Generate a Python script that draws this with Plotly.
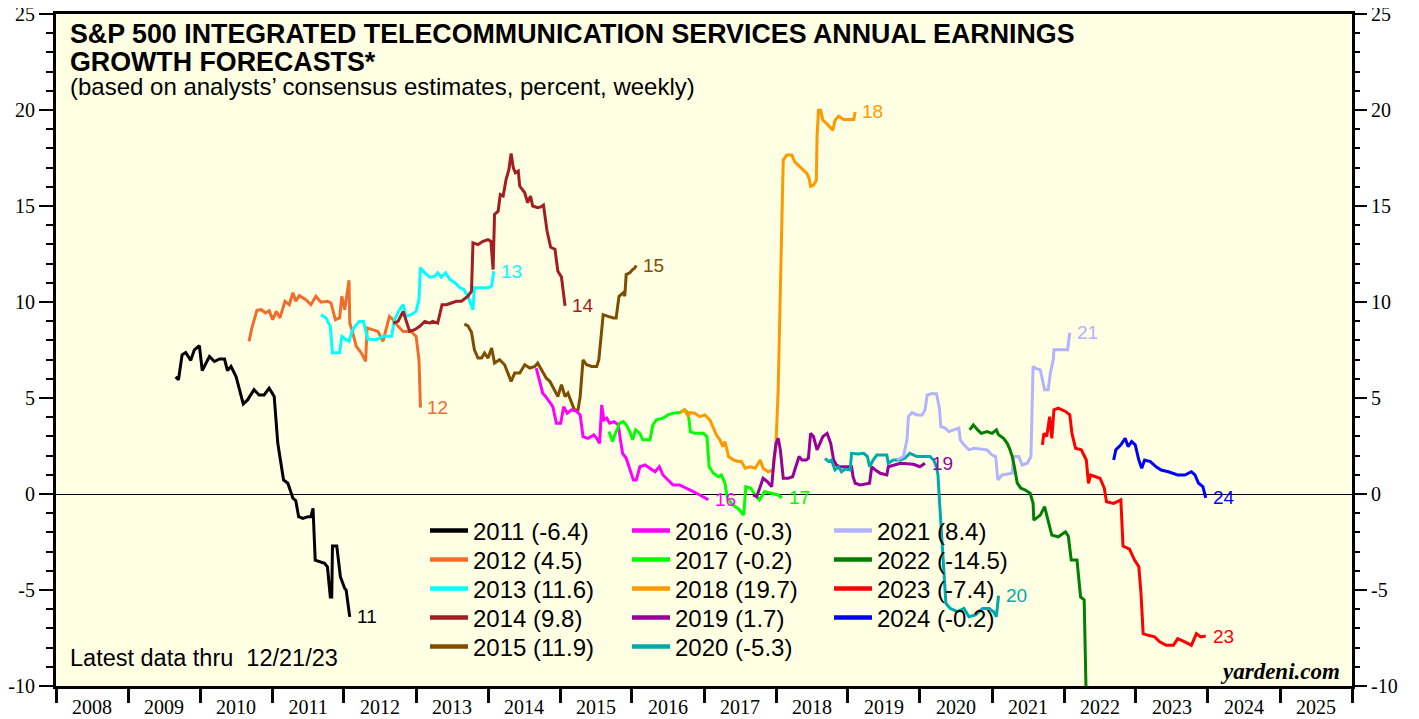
import plotly.graph_objects as go
import pandas as pd

# ---------------- data (decimal year, percent) ----------------
t2011 = [2009.66,2009.70,2009.75,2009.80,2009.87,2009.92,2009.99,2010.03,2010.13,2010.20,2010.27,2010.34,2010.38,2010.43,2010.50,2010.55,2010.60,2010.66,2010.75,2010.82,2010.89,2010.96,2011.03,2011.08,2011.11,2011.16,2011.22,2011.29,2011.33,2011.37,2011.43,2011.50,2011.54,2011.57,2011.60,2011.66,2011.73,2011.77,2011.81,2011.83,2011.84,2011.90,2011.95,2012.01,2012.03,2012.08]
v2011 = [6.1,5.95,7.25,7.37,6.96,7.51,7.72,6.43,7.16,6.90,7.03,7.03,6.43,6.64,6.12,5.43,4.69,4.90,5.43,5.16,5.16,5.51,5.08,2.64,1.95,0.73,0.56,-0.22,-0.35,-1.18,-1.27,-1.18,-1.18,-0.75,-3.44,-3.53,-3.61,-3.79,-5.36,-5.36,-2.71,-2.71,-4.31,-4.92,-5.0,-6.4]

t2012 = [2010.68,2010.72,2010.79,2010.85,2010.91,2010.96,2011.01,2011.06,2011.11,2011.18,2011.24,2011.29,2011.33,2011.38,2011.47,2011.54,2011.61,2011.68,2011.77,2011.82,2011.88,2011.94,2011.97,2012.01,2012.07,2012.08,2012.12,2012.17,2012.24,2012.30,2012.32,2012.40,2012.47,2012.54,2012.63,2012.68,2012.75,2012.82,2012.93,2013.00,2013.04,2013.06]
v2012 = [7.95,8.65,9.57,9.6,9.43,9.55,9.08,9.51,9.17,10.04,9.86,10.48,10.04,10.33,10.12,9.86,10.3,9.99,10.04,9.95,9.08,9.17,10.3,9.6,11.13,8.92,8.4,7.69,7.35,6.91,8.65,8.56,8.47,7.95,9.25,9.08,8.73,8.47,8.47,8.21,6.99,4.5]

t2013 = [2011.68,2011.75,2011.81,2011.84,2011.94,2011.97,2012.03,2012.07,2012.12,2012.21,2012.27,2012.33,2012.45,2012.54,2012.66,2012.70,2012.77,2012.82,2012.86,2012.93,2013.00,2013.04,2013.06,2013.12,2013.19,2013.26,2013.30,2013.35,2013.41,2013.47,2013.54,2013.61,2013.66,2013.72,2013.79,2013.81,2013.88,2014.00,2014.05,2014.08]
v2013 = [9.34,9.17,8.73,7.35,7.37,8.21,8.04,7.95,8.56,8.99,8.99,8.07,8.04,8.21,8.21,9.08,9.6,9.86,9.25,9.34,9.51,10.12,11.78,11.52,11.29,11.34,11.52,11.29,11.52,11.17,11.0,10.74,10.65,10.3,9.6,10.74,10.74,10.74,10.83,11.6]

t2014 = [2012.68,2012.75,2012.82,2012.86,2012.91,2012.98,2013.05,2013.12,2013.19,2013.23,2013.30,2013.36,2013.42,2013.49,2013.56,2013.63,2013.67,2013.72,2013.77,2013.79,2013.86,2013.93,2014.00,2014.04,2014.07,2014.09,2014.14,2014.17,2014.21,2014.25,2014.29,2014.32,2014.35,2014.38,2014.42,2014.44,2014.51,2014.55,2014.59,2014.62,2014.69,2014.73,2014.77,2014.82,2014.87,2014.93,2014.97,2015.02,2015.07]
v2014 = [8.9,8.99,9.51,8.99,8.47,8.56,8.73,8.99,8.9,8.99,8.9,9.86,9.86,9.95,10.04,10.04,10.16,10.3,10.56,13.08,12.99,13.16,13.25,13.16,11.69,14.56,14.73,15.6,15.52,16.38,16.9,17.74,17.0,16.73,16.82,16.04,15.69,15.17,15.52,15.0,14.91,14.95,15.05,13.7,12.85,12.75,11.6,11.3,9.8]

t2015 = [2013.67,2013.72,2013.77,2013.81,2013.86,2013.91,2013.95,2014.00,2014.05,2014.09,2014.16,2014.23,2014.32,2014.37,2014.44,2014.51,2014.58,2014.65,2014.69,2014.74,2014.81,2014.86,2014.93,2014.97,2015.02,2015.07,2015.11,2015.16,2015.20,2015.25,2015.28,2015.32,2015.37,2015.44,2015.51,2015.54,2015.60,2015.67,2015.74,2015.78,2015.82,2015.88,2015.90,2015.92,2015.97,2016.01,2016.04,2016.06]
v2015 = [8.85,8.76,8.42,7.51,7.08,7.08,7.34,7.08,7.6,6.82,6.99,6.73,5.86,6.3,6.3,6.73,6.56,6.64,6.82,6.47,6.03,5.86,5.34,5.08,5.69,5.08,5.25,4.73,4.38,4.38,5.08,6.99,6.73,6.64,6.64,7.0,9.34,9.25,9.17,9.17,10.3,10.48,10.3,11.43,11.52,11.69,11.78,11.9]

t2016 = [2014.67,2014.72,2014.76,2014.80,2014.85,2014.90,2014.95,2015.01,2015.05,2015.10,2015.16,2015.23,2015.28,2015.32,2015.39,2015.47,2015.51,2015.55,2015.58,2015.61,2015.65,2015.69,2015.75,2015.81,2015.84,2015.87,2015.92,2015.97,2016.02,2016.06,2016.11,2016.18,2016.25,2016.32,2016.38,2016.43,2016.50,2016.57,2016.66,2016.76,2016.85,2016.94,2017.06]
v2016 = [6.56,5.77,5.25,5.08,4.82,4.55,3.69,3.69,4.55,4.21,4.38,4.3,4.12,2.99,2.9,3.08,2.9,2.64,4.64,3.86,3.95,3.69,3.77,3.6,2.82,2.12,1.86,1.25,0.73,0.73,1.42,1.51,1.34,1.16,1.42,0.99,0.73,0.47,0.47,0.3,0.12,-0.05,-0.3]

t2017 = [2015.68,2015.73,2015.77,2015.83,2015.88,2015.92,2015.97,2016.01,2016.05,2016.11,2016.15,2016.25,2016.29,2016.34,2016.43,2016.50,2016.57,2016.66,2016.73,2016.78,2016.81,2016.87,2016.99,2017.04,2017.07,2017.13,2017.20,2017.24,2017.29,2017.32,2017.38,2017.43,2017.49,2017.55,2017.58,2017.65,2017.71,2017.77,2017.84,2017.93,2018.03,2018.08]
v2017 = [3.25,2.73,3.16,3.69,3.77,3.6,3.25,2.82,3.34,3.16,2.82,2.82,3.6,3.86,3.95,4.12,4.21,4.24,4.38,4.21,3.25,3.16,3.16,2.99,1.42,1.08,0.9,0.99,0.56,-0.14,-0.49,-0.66,-0.83,-1.1,0.38,0.3,-0.05,-0.31,0.12,0.04,-0.05,-0.2]

t2018 = [2016.67,2016.73,2016.78,2016.80,2016.87,2016.94,2017.01,2017.08,2017.13,2017.17,2017.22,2017.26,2017.29,2017.34,2017.41,2017.48,2017.52,2017.57,2017.64,2017.71,2017.78,2017.82,2017.89,2017.96,2018.00,2018.03,2018.06,2018.08,2018.10,2018.15,2018.22,2018.26,2018.33,2018.38,2018.43,2018.46,2018.48,2018.52,2018.56,2018.57,2018.59,2018.62,2018.65,2018.70,2018.75,2018.79,2018.82,2018.87,2018.94,2019.03,2019.08,2019.10]
v2018 = [4.24,4.38,4.03,4.24,4.21,4.03,4.12,3.86,3.43,3.08,2.82,2.47,2.73,1.95,1.77,1.69,1.69,1.34,1.42,1.34,1.77,1.34,1.16,1.25,2.64,5.43,10.64,15.0,17.39,17.65,17.65,17.3,17.04,16.86,16.69,16.43,16.03,16.08,16.34,18.6,19.99,19.99,19.47,19.3,19.13,18.95,19.47,19.68,19.5,19.5,19.5,19.9]

t2019 = [2017.68,2017.73,2017.78,2017.82,2017.88,2017.94,2017.97,2018.00,2018.03,2018.06,2018.10,2018.17,2018.23,2018.28,2018.32,2018.36,2018.42,2018.45,2018.48,2018.52,2018.57,2018.61,2018.65,2018.71,2018.76,2018.80,2018.84,2018.89,2019.05,2019.07,2019.10,2019.17,2019.30,2019.33,2019.38,2019.45,2019.54,2019.56,2019.63,2019.73,2019.91,2020.00,2020.07]
v2019 = [-0.05,-0.14,0.38,0.82,0.64,0.38,1.77,2.64,2.9,2.3,0.82,0.82,0.9,1.42,1.95,1.77,1.77,1.86,3.16,2.99,2.3,2.64,2.99,3.16,2.64,1.77,1.51,1.42,1.42,0.9,0.56,0.47,0.56,1.42,1.25,1.08,0.99,1.42,1.51,1.6,1.55,1.42,1.6]

t2020 = [2018.68,2018.73,2018.77,2018.82,2018.87,2018.91,2018.96,2019.03,2019.05,2019.14,2019.22,2019.27,2019.30,2019.35,2019.40,2019.54,2019.56,2019.63,2019.73,2019.79,2019.86,2019.96,2020.14,2020.19,2020.23,2020.25,2020.27,2020.30,2020.33,2020.36,2020.42,2020.52,2020.61,2020.68,2020.77,2020.87,2020.96,2021.02,2021.06,2021.09]
v2020 = [1.86,1.69,1.77,1.25,1.42,1.16,1.3,1.25,2.12,2.09,2.12,1.95,1.42,1.77,2.03,2.03,1.6,1.77,1.77,1.86,2.12,1.95,1.95,1.77,1.4,1.0,-0.3,-2.0,-3.6,-5.7,-5.96,-6.13,-5.96,-6.39,-6.3,-5.96,-5.96,-6.13,-6.39,-5.3]

t2021 = [2019.68,2019.77,2019.82,2019.84,2019.89,2019.96,2020.03,2020.07,2020.10,2020.16,2020.23,2020.27,2020.29,2020.35,2020.40,2020.47,2020.54,2020.56,2020.61,2020.68,2020.75,2020.93,2021.00,2021.05,2021.08,2021.14,2021.28,2021.30,2021.37,2021.42,2021.49,2021.54,2021.57,2021.60,2021.67,2021.73,2021.78,2021.81,2021.85,2021.86,2022.05,2022.08]
v2021 = [1.77,1.95,2.82,4.03,4.24,4.12,4.12,4.38,5.16,5.22,5.22,4.47,3.51,3.43,3.25,3.34,3.43,2.82,2.56,2.3,2.38,2.3,2.03,1.95,0.73,0.99,1.08,1.95,1.95,1.51,1.6,1.95,6.64,6.56,6.47,5.43,5.43,6.3,6.99,7.51,7.51,8.4]

t2022 = [2020.69,2020.74,2020.80,2020.85,2020.93,2021.00,2021.06,2021.09,2021.16,2021.21,2021.25,2021.28,2021.31,2021.35,2021.40,2021.46,2021.53,2021.57,2021.58,2021.67,2021.73,2021.78,2021.83,2021.92,2022.02,2022.06,2022.10,2022.18,2022.23,2022.28,2022.33]
v2022 = [3.34,3.6,3.34,3.16,3.25,3.16,3.34,3.08,2.9,2.64,2.3,1.95,1.42,0.56,0.3,0.21,0.04,-0.49,-1.36,-1.1,-0.66,-1.36,-2.14,-2.23,-1.97,-2.2,-3.44,-3.44,-5.36,-5.52,-14.5]

t2023 = [2021.70,2021.72,2021.76,2021.80,2021.83,2021.86,2021.92,2022.02,2022.08,2022.11,2022.16,2022.24,2022.31,2022.34,2022.37,2022.50,2022.56,2022.59,2022.69,2022.79,2022.82,2022.91,2022.98,2023.04,2023.07,2023.10,2023.17,2023.26,2023.33,2023.42,2023.52,2023.58,2023.68,2023.77,2023.84,2023.90,2023.97]
v2023 = [2.56,3.16,3.0,4.03,2.9,4.38,4.47,4.3,4.12,3.16,2.38,2.3,1.77,0.56,0.99,0.82,0.3,-0.4,-0.49,-0.31,-2.71,-2.87,-3.44,-3.79,-5.18,-7.27,-7.36,-7.44,-7.7,-7.88,-7.88,-7.53,-7.7,-7.88,-7.27,-7.44,-7.4]

t2024 = [2022.69,2022.72,2022.79,2022.85,2022.89,2022.94,2022.99,2023.04,2023.08,2023.12,2023.20,2023.28,2023.35,2023.45,2023.58,2023.68,2023.77,2023.82,2023.87,2023.93,2023.97]
v2024 = [1.77,2.3,2.56,2.9,2.47,2.73,2.56,1.77,1.34,1.77,1.69,1.42,1.25,1.16,0.99,0.99,1.16,0.99,0.56,0.38,-0.2]

years = [2011, 2012, 2013, 2014, 2015, 2016, 2017, 2018, 2019, 2020, 2021, 2022, 2023, 2024]
final_values = ["-6.4", "4.5", "11.6", "9.8", "11.9", "-0.3", "-0.2", "19.7", "1.7", "-5.3", "8.4", "-14.5", "-7.4", "-0.2"]
end_labels = ["11", "12", "13", "14", "15", "16", "17", "18", "19", "20", "21", None, "23", "24"]
colors = ["#000000", "#F26D2B", "#00FFFF", "#A21E23", "#7E4D00", "#FF00FF", "#00FF00",
          "#FF9900", "#990099", "#00AAAA", "#B3B3FF", "#007F00", "#FF0000", "#0000FF"]
series_t = [t2011, t2012, t2013, t2014, t2015, t2016, t2017, t2018, t2019, t2020, t2021, t2022, t2023, t2024]
series_v = [v2011, v2012, v2013, v2014, v2015, v2016, v2017, v2018, v2019, v2020, v2021, v2022, v2023, v2024]

y_tickvals = [-10, -5, 0, 5, 10, 15, 20, 25]
y_ticktext = ["-10", "-5", "0", "5", "10", "15", "20", "25"]


def to_date(yf):
    y = int(yf)
    start = pd.Timestamp(year=y, month=1, day=1)
    end = pd.Timestamp(year=y + 1, month=1, day=1)
    return start + (end - start) * (yf - y)


SANS = "Liberation Sans, Arial, sans-serif"
SERIF = "Liberation Serif, Times New Roman, serif"

# the page body has an 8px default margin; size the figure so it fills the window
BODY = 8
W, H = 1419 - BODY, 719 - BODY
PLOT_L, PLOT_T, PLOT_W, PLOT_H = 56, 14, 1296, 672   # plot area in window pixels

fig = go.Figure()

annotations = []
for yr, ts, vs, col, lab in zip(years, series_t, series_v, colors, end_labels):
    n = min(len(ts), len(vs))
    xs = [to_date(t) for t in ts[:n]]
    ys = vs[:n]
    fig.add_trace(go.Scatter(x=xs, y=ys, mode="lines", line=dict(color=col, width=3),
                             showlegend=False, hoverinfo="skip", name=str(yr)))
    if lab:
        annotations.append(dict(x=xs[-1], y=ys[-1], xref="x", yref="y", text=lab,
                                showarrow=False, xanchor="left", yanchor="middle", xshift=5,
                                font=dict(family=SANS, size=19, color=col)))


def px_to_paper_y(py):
    return 1 - (py - PLOT_T) / PLOT_H


def px_to_paper_x(px):
    return (px - PLOT_L) / PLOT_W


# legend rows (column-major layout: 3 columns x 5 rows)
row_y_px = [531.0, 560.0, 589.0, 618.0, 647.0]
legend_layouts = {}
for r in range(5):
    key = "legend" if r == 0 else f"legend{r + 1}"
    legend_layouts[key] = dict(
        orientation="h", x=px_to_paper_x(425), xanchor="left",
        y=px_to_paper_y(row_y_px[r]), yanchor="middle",
        bgcolor="rgba(0,0,0,0)", borderwidth=0,
        font=dict(family=SANS, size=24, color="black"),
        itemwidth=38, entrywidth=149, entrywidthmode="pixels",
        tracegroupgap=0, itemclick=False, itemdoubleclick=False)
    for c in range(3):
        idx = c * 5 + r
        if idx >= len(years):
            continue
        fig.add_trace(go.Scatter(x=[None], y=[None], mode="lines", yaxis="y2",
                                 line=dict(color=colors[idx], width=4.5),
                                 name=f"{years[idx]} ({final_values[idx]})",
                                 legend=key, showlegend=True, hoverinfo="skip"))

annotations += [
    dict(text="<b>S&amp;P 500 INTEGRATED TELECOMMUNICATION SERVICES ANNUAL EARNINGS</b>",
         x=px_to_paper_x(68), y=px_to_paper_y(34), xref="paper", yref="paper",
         xanchor="left", yanchor="middle", showarrow=False,
         font=dict(family=SANS, size=26.8, color="black")),
    dict(text="<b>GROWTH FORECASTS*</b>",
         x=px_to_paper_x(68), y=px_to_paper_y(61.5), xref="paper", yref="paper",
         xanchor="left", yanchor="middle", showarrow=False,
         font=dict(family=SANS, size=26.8, color="black")),
    dict(text="(based on analysts’ consensus estimates, percent, weekly)",
         x=px_to_paper_x(68), y=px_to_paper_y(87), xref="paper", yref="paper",
         xanchor="left", yanchor="middle", showarrow=False,
         font=dict(family=SANS, size=24, color="black")),
    dict(text="Latest data thru \u00a012/21/23",
         x=px_to_paper_x(68), y=px_to_paper_y(658), xref="paper", yref="paper",
         xanchor="left", yanchor="middle", showarrow=False,
         font=dict(family=SANS, size=23.5, color="black")),
    dict(text="<b><i>yardeni.com</i></b>",
         x=px_to_paper_x(1342), y=px_to_paper_y(671), xref="paper", yref="paper",
         xanchor="right", yanchor="middle", showarrow=False,
         font=dict(family=SERIF, size=23, color="black")),
]

yaxis_common = dict(
    range=[-10, 25], tickmode="array", tickvals=y_tickvals, ticktext=y_ticktext,
    ticks="outside", ticklen=14, tickwidth=2, tickcolor="black",
    minor=dict(dtick=1, tick0=0, ticks="outside", ticklen=7, tickwidth=1.5, tickcolor="black"),
    tickfont=dict(family=SERIF, size=20, color="black"),
    ticklabeloverflow="allow",
    showgrid=False, fixedrange=True, automargin=False,
)

fig.update_layout(
    width=W, height=H,
    margin=dict(l=PLOT_L - BODY, r=1419 - (PLOT_L + PLOT_W), t=PLOT_T - BODY,
                b=719 - (PLOT_T + PLOT_H), pad=0, autoexpand=False),
    paper_bgcolor="white", plot_bgcolor="#FFFFE3",
    showlegend=True,
    annotations=annotations,
    xaxis=dict(
        type="date", range=["2008-01-01", "2026-01-01"],
        dtick="M12", tick0="2008-01-01", tickformat="%Y", ticklabelmode="period",
        ticks="outside", ticklen=14, tickwidth=2.5, tickcolor="black",
        tickfont=dict(family=SERIF, size=20, color="black"),
        ticklabelstandoff=-13, ticklabeloverflow="allow",
        showline=True, linecolor="black", linewidth=3, mirror=True,
        showgrid=False, zeroline=False, fixedrange=True, automargin=False,
    ),
    yaxis=dict(**yaxis_common, side="left",
               showline=True, linecolor="black", linewidth=3, mirror=True,
               zeroline=True, zerolinecolor="black", zerolinewidth=1),
    yaxis2=dict(**yaxis_common, side="right", overlaying="y",
                showline=False, zeroline=False),
    **legend_layouts,
)

fig.write_html("out.html")
